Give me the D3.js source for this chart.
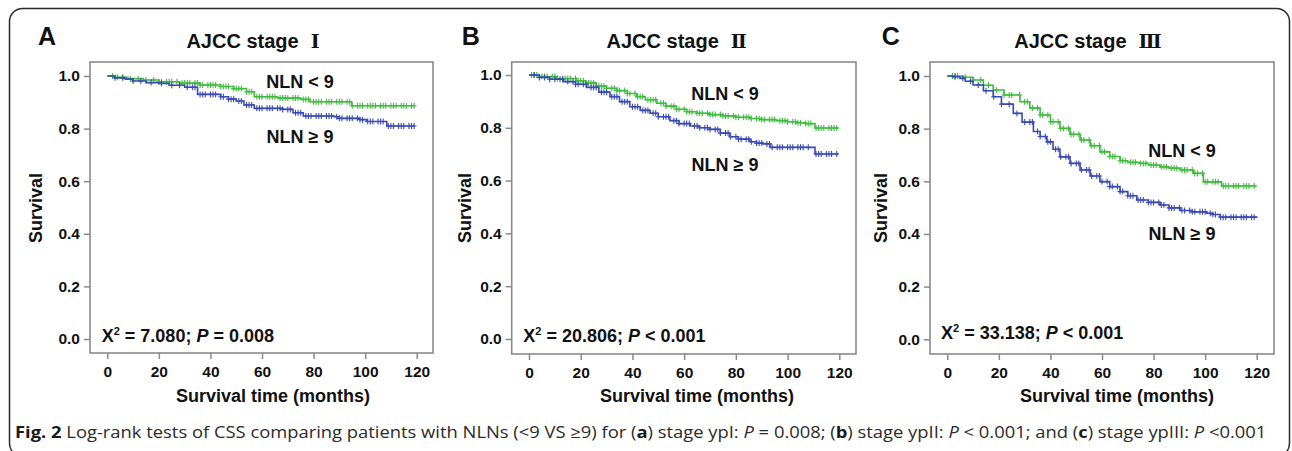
<!DOCTYPE html>
<html>
<head>
<meta charset="utf-8">
<script src="https://cdn.jsdelivr.net/npm/d3@7"></script>
<style>
  body { margin: 0; background: #fff; }
  svg text { font-family: 'Liberation Sans', Arial, sans-serif; font-weight: bold; fill: #111; }
  svg text.caption { font-family: 'Open Sans', 'Noto Sans', sans-serif; font-weight: normal; fill: #2a2a2a; }
</style>
</head>
<body>
<svg id="chart" width="1292" height="451"></svg>
<script>
// ---- data ----
const xTicks = [0, 20, 40, 60, 80, 100, 120];
const yTicks = [0, 0.2, 0.4, 0.6, 0.8, 1.0];
const panelLetters = ['A', 'B', 'C'];
const stageNumerals = ['Ⅰ', 'Ⅱ', 'Ⅲ'];
const chiValues = ['7.080', '20.806', '33.138'];
const pValues = ['= 0.008', '< 0.001', '< 0.001'];
const groupLabels = ['NLN < 9', 'NLN ≥ 9'];

// [months, survival] step points (NLN < 9 = low, NLN >= 9 = high)
const stageILow = [[0, 1], [3, 0.995], [8, 0.99], [14, 0.985], [20, 0.978], [28, 0.973], [36, 0.966], [44, 0.96],
  [49, 0.952], [54, 0.94], [57, 0.921], [66, 0.916], [75, 0.911], [78.6, 0.902], [94.8, 0.887], [119.3, 0.887]];
const stageIHigh = [[0, 1], [3, 0.993], [7, 0.988], [10, 0.981], [15, 0.975], [20, 0.972], [24, 0.965], [30, 0.957],
  [35, 0.93], [44, 0.921], [47, 0.912], [50, 0.905], [53, 0.89], [57, 0.877], [68, 0.873], [72, 0.86], [76, 0.848],
  [88, 0.845], [90, 0.839], [98, 0.834], [100.6, 0.827], [108.4, 0.81], [119.3, 0.81]];
const stageIILow = [[0, 1], [4, 0.994], [10.7, 0.987], [18.3, 0.978], [22, 0.97], [26, 0.958], [30, 0.95], [34, 0.941],
  [38, 0.93], [41.6, 0.918], [45, 0.906], [49.4, 0.893], [53, 0.882], [57, 0.87], [61, 0.861], [64.8, 0.855], [70, 0.85],
  [75, 0.845], [80, 0.84], [85.4, 0.835], [90, 0.831], [95.7, 0.827], [100, 0.823], [103.5, 0.819], [107, 0.816],
  [110.6, 0.799], [119.6, 0.799]];
const stageIIHigh = [[0, 1], [4, 0.991], [8, 0.984], [13.3, 0.975], [18, 0.965], [22.3, 0.953], [27, 0.935], [31.3, 0.918],
  [35, 0.899], [39, 0.88], [43, 0.866], [46.8, 0.855], [50, 0.842], [54.5, 0.827], [58, 0.816], [62.3, 0.807], [66, 0.8],
  [70, 0.794], [74, 0.78], [77.7, 0.766], [81, 0.757], [85.4, 0.747], [88, 0.742], [90.6, 0.739], [93.2, 0.726],
  [110.6, 0.701], [119.6, 0.701]];
const stageIIILow = [[0, 1], [6, 0.995], [10, 0.985], [14, 0.965], [17.8, 0.947], [22, 0.928], [28.2, 0.902], [32, 0.878],
  [36, 0.852], [40, 0.826], [43.7, 0.801], [47.6, 0.779], [51.5, 0.757], [55.4, 0.735], [59.2, 0.712], [63, 0.694],
  [67, 0.678], [70, 0.672], [74.7, 0.668], [78, 0.662], [82.5, 0.655], [86, 0.65], [90.3, 0.643], [95.4, 0.63],
  [99.3, 0.598], [106.4, 0.582], [120, 0.582]];
const stageIIIHigh = [[0, 1], [2, 0.997], [4.9, 0.991], [7, 0.98], [10, 0.966], [14, 0.944], [17.8, 0.921], [21, 0.893],
  [25.6, 0.858], [29, 0.825], [33.4, 0.789], [36, 0.77], [38.6, 0.75], [41, 0.722], [43.7, 0.693], [47.6, 0.668],
  [51.5, 0.643], [55.4, 0.62], [59.2, 0.599], [63, 0.58], [67, 0.561], [70, 0.545], [73.5, 0.529], [78, 0.52],
  [82.5, 0.51], [86, 0.499], [90.3, 0.489], [95, 0.484], [100.6, 0.479], [103, 0.474], [105.8, 0.464], [120, 0.462]];

// censoring times (months)
const stageILowCensor = [2, 4, 6, 9, 12, 15, 18, 20, 21, 23, 24, 25, 27, 29, 30, 31, 32, 34, 35, 36, 37, 39, 40, 41, 42, 44,
  45, 46, 47, 49, 50, 51, 52, 54, 55, 56, 58, 59, 60, 62, 63, 64, 65, 67, 68, 69, 70, 72, 73, 74, 76, 77, 78, 80, 81, 82,
  83, 85, 86, 87, 89, 90, 91, 93, 94, 95, 97, 98, 99, 101, 102, 103, 104, 106, 107, 108, 110, 111, 112, 114, 115, 116,
  118, 119];
const stageIHighCensor = [3, 6, 10, 13, 17, 21, 25, 28, 31, 33, 34, 36, 37, 38, 40, 41, 42, 44, 45, 47, 48, 49, 51, 52, 54,
  55, 56, 58, 59, 60, 62, 63, 64, 66, 67, 68, 70, 71, 73, 74, 75, 77, 78, 79, 81, 82, 83, 85, 86, 87, 89, 90, 91, 93, 94,
  95, 97, 98, 99, 101, 102, 103, 105, 106, 107, 109, 110, 111, 113, 114, 115, 117, 118, 119];
const stageIILowCensor = [1, 2, 3, 5, 6, 7, 9, 10, 11, 13, 14, 15, 16, 18, 19, 20, 21, 23, 24, 25, 27, 28, 29, 30, 32, 33,
  34, 35, 37, 38, 39, 41, 42, 43, 44, 46, 47, 48, 49, 51, 52, 53, 55, 56, 57, 58, 60, 61, 62, 63, 65, 66, 67, 69, 70, 71,
  72, 74, 75, 76, 77, 79, 80, 81, 83, 84, 85, 86, 88, 89, 90, 91, 93, 94, 95, 97, 98, 99, 100, 102, 103, 104, 105, 107,
  108, 109, 111, 112, 113, 114, 116, 117, 118, 119];
const stageIIHighCensor = [2, 4, 6, 8, 10, 12, 13, 15, 17, 18, 19, 21, 22, 24, 25, 26, 28, 29, 30, 32, 33, 34, 36, 37, 38,
  40, 41, 42, 44, 45, 46, 48, 49, 50, 52, 53, 54, 56, 57, 58, 60, 61, 62, 64, 65, 66, 68, 69, 70, 72, 73, 74, 76, 77, 78,
  80, 81, 82, 84, 85, 86, 88, 89, 90, 92, 93, 94, 96, 97, 98, 100, 101, 102, 104, 105, 106, 108, 111, 112, 113, 115, 116,
  117, 119];
const stageIIILowCensor = [2, 3, 4, 7, 10, 13, 16, 19, 22, 24, 25, 28, 30, 31, 33, 35, 36, 37, 39, 40, 41, 43, 44, 45, 47,
  48, 49, 51, 52, 53, 55, 56, 57, 59, 60, 61, 63, 64, 65, 67, 68, 69, 71, 72, 73, 75, 76, 77, 79, 80, 81, 83, 84, 85, 87,
  88, 89, 91, 92, 93, 95, 96, 97, 99, 100, 101, 103, 104, 105, 107, 108, 109, 111, 112, 113, 115, 116, 117, 119];
const stageIIIHighCensor = [3, 6, 9, 12, 15, 18, 21, 24, 27, 30, 32, 33, 35, 36, 38, 39, 40, 42, 43, 44, 46, 47, 48, 50, 51,
  52, 54, 55, 56, 58, 59, 60, 62, 63, 64, 66, 67, 68, 70, 71, 72, 74, 75, 76, 78, 79, 80, 82, 83, 84, 86, 87, 88, 90, 91,
  92, 94, 95, 96, 98, 99, 100, 102, 103, 104, 106, 107, 108, 110, 111, 112, 114, 115, 116, 118, 119];

const curves = [
  [{ steps: stageILow, censor: stageILowCensor }, { steps: stageIHigh, censor: stageIHighCensor }],
  [{ steps: stageIILow, censor: stageIILowCensor }, { steps: stageIIHigh, censor: stageIIHighCensor }],
  [{ steps: stageIIILow, censor: stageIIILowCensor }, { steps: stageIIIHigh, censor: stageIIIHighCensor }],
];

// ---- layout ----
const layout = [
  { left: 90, top: 62, right: 433, bottom: 353, x0: 107.3, x1: 416.7, y0: 339, y1: 76,
    letterX: 38, titleX: 253, yTitleX: 36, xTitleX: 273, statX: 101.7, statY: 341.7,
    labelX: 300, labelY: [82, 137] },
  { left: 511.7, top: 62, right: 856, bottom: 354, x0: 529, x1: 839.3, y0: 339, y1: 75,
    letterX: 461.7, titleX: 676.7, yTitleX: 465, xTitleX: 697, statX: 523.3, statY: 341.7,
    labelX: 725, labelY: [93.3, 165] },
  { left: 930, top: 62, right: 1274, bottom: 354, x0: 947.3, x1: 1256.7, y0: 339.3, y1: 76,
    letterX: 881.7, titleX: 1088, yTitleX: 881, xTitleX: 1117, statX: 941, statY: 339.3,
    labelX: 1182, labelY: [150.7, 233.3] },
];
const colours = ['#3fbc3f', '#3a4ab4'];

const svg = d3.select('#chart');

// outer rounded frame
svg.append('rect')
  .attr('x', 9.5).attr('y', 8.5)
  .attr('width', 1280).attr('height', 448)
  .attr('rx', 13)
  .attr('fill', 'none')
  .attr('stroke', '#2b2b2b')
  .attr('stroke-width', 1.5);

layout.forEach((L, i) => {
  const g = svg.append('g');
  const x = d3.scaleLinear().domain([0, 120]).range([L.x0, L.x1]);
  const y = d3.scaleLinear().domain([0, 1]).range([L.y0, L.y1]);

  // plot box
  g.append('rect')
    .attr('x', L.left).attr('y', L.top)
    .attr('width', L.right - L.left).attr('height', L.bottom - L.top)
    .attr('fill', 'none')
    .attr('stroke', '#8a8a8a')
    .attr('stroke-width', 1.6);

  // axes
  const yAxis = g.append('g')
    .attr('transform', `translate(${L.left},0)`)
    .call(d3.axisLeft(y).tickValues(yTicks).tickFormat(d3.format('.1f')).tickSize(6).tickPadding(4));
  const xAxis = g.append('g')
    .attr('transform', `translate(0,${L.bottom})`)
    .call(d3.axisBottom(x).tickValues(xTicks).tickSize(6).tickPadding(7));
  [yAxis, xAxis].forEach(ax => {
    ax.select('.domain').remove();
    ax.selectAll('.tick line').attr('stroke', '#8a8a8a').attr('stroke-width', 1.5);
    ax.selectAll('.tick text').style('font-size', '15.5px');
  });

  // curves
  const line = d3.line().x(d => x(d[0])).y(d => y(d[1])).curve(d3.curveStepAfter);
  const bis = d3.bisector(d => d[0]).right;
  curves[i].forEach((c, k) => {
    g.append('path')
      .attr('d', line(c.steps))
      .attr('fill', 'none')
      .attr('stroke', colours[k])
      .attr('stroke-width', 1.6);
    g.append('path')
      .attr('d', c.censor.map(t => {
        const s = c.steps[Math.max(0, bis(c.steps, t) - 1)][1];
        const cx = x(t), cy = y(s);
        return `M${cx - 2.5},${cy}h5M${cx},${cy - 3}v6`;
      }).join(''))
      .attr('fill', 'none')
      .attr('stroke', colours[k])
      .attr('stroke-width', 1.1);
  });

  // group labels
  groupLabels.forEach((lab, k) => {
    g.append('text')
      .attr('x', L.labelX).attr('y', L.labelY[k])
      .attr('dy', '0.36em')
      .attr('text-anchor', 'middle')
      .style('font-size', '18px')
      .text(lab);
  });

  // panel letter
  g.append('text')
    .attr('x', L.letterX).attr('y', 44.5)
    .style('font-size', '25px')
    .text(panelLetters[i]);

  // title
  const title = g.append('text')
    .attr('x', L.titleX).attr('y', 48)
    .attr('text-anchor', 'middle')
    .style('font-size', '20px');
  title.append('tspan').text('AJCC stage');
  title.append('tspan')
    .attr('dx', 12)
    .style('font-family', "'DejaVu Serif', 'Liberation Serif', serif")
    .style('font-size', '19px')
    .text(stageNumerals[i]);

  // y title
  g.append('text')
    .attr('transform', `translate(${L.yTitleX},208) rotate(-90)`)
    .attr('dy', '0.36em')
    .attr('text-anchor', 'middle')
    .style('font-size', '18px')
    .text('Survival');

  // x title
  g.append('text')
    .attr('x', L.xTitleX).attr('y', 402)
    .attr('text-anchor', 'middle')
    .style('font-size', '18px')
    .text('Survival time (months)');

  // statistic
  const stat = g.append('text')
    .attr('x', L.statX).attr('y', L.statY)
    .style('font-size', '18px');
  stat.append('tspan').text('Χ');
  stat.append('tspan').attr('dy', -7).style('font-size', '11px').text('2');
  stat.append('tspan').attr('dy', 7).text(` = ${chiValues[i]}; `);
  stat.append('tspan').style('font-style', 'italic').text('P');
  stat.append('tspan').text(` ${pValues[i]}`);
});

// caption
const cap = svg.append('text')
  .attr('class', 'caption')
  .style('font-size', '16.5px')
  .attr('xml:space', 'preserve');
const parts = [
  ['Fig. 2', 'b'], [' Log-rank tests of CSS comparing patients with NLNs (<9 VS ≥9) for (', ''], ['a', 'b'],
  [') stage ypI: ', ''], ['P', 'i'], [' = 0.008; (', ''], ['b', 'b'], [') stage ypII: ', ''], ['P', 'i'],
  [' < 0.001; and (', ''], ['c', 'b'], [') stage ypIII: ', ''], ['P', 'i'], [' <0.001', ''],
];
parts.forEach(([t, s]) => {
  const ts = cap.append('tspan').text(t);
  if (s === 'b') ts.style('font-weight', 'bold').style('fill', '#1a1a1a');
  if (s === 'i') ts.style('font-style', 'italic');
});
const capW = cap.node().getComputedTextLength();
cap.attr('transform', `translate(15,437.7) scale(${1252 / capW},1)`);
</script>
</body>
</html>
